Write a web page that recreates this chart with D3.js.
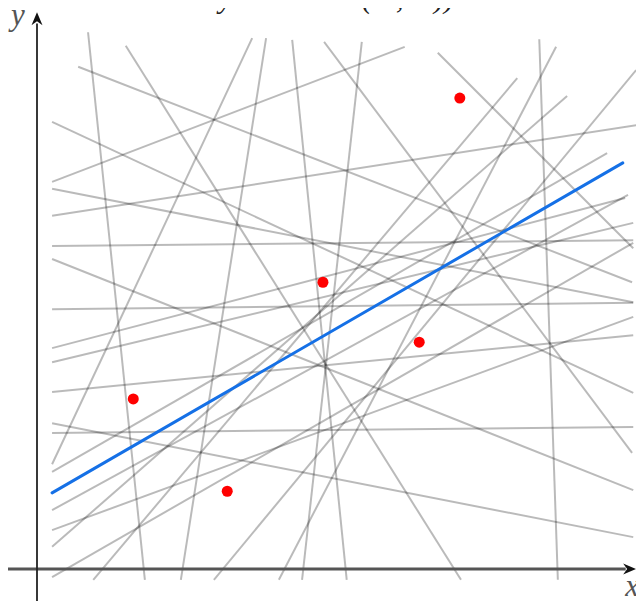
<!DOCTYPE html>
<html>
<head>
<meta charset="utf-8">
<script src="https://cdn.jsdelivr.net/npm/d3@7"></script>
<style>
  html, body { margin: 0; padding: 0; background: #fff; }
  svg { display: block; }
</style>
</head>
<body>
<div id="chart"></div>
<script>
// ---- data (data units; axes cross at 0,0) ----
// random gray lines: endpoints
const lineX1 = [0.88, 1.53, 3.71, 3.95, 4.40, 0.71, 4.95, 6.91, 5.60, 6.34, 8.66, 8.95, 8.28, 9.14, 10.33,
                0.26, 0.26, 0.26, 0.26, 0.26, 0.26, 0.26, 0.26, 0.26, 0.26, 0.26, 0.26, 0.26, 0.26, 0.26];
const lineY1 = [9.94, 9.69, 9.83, 9.83, 9.80, 9.30, 9.76, 9.56, 9.76, 9.67, 9.81, 9.67, 9.09, 8.76, 9.24,
                8.28, 7.04, 6.54, 5.98, 5.74, 4.81, 4.09, 3.83, 3.28, 2.70, 2.52, 1.80, 1.09, 0.72, -0.15];
const lineX2 = [1.86, 7.31, 0.26, 2.48, 5.34, 10.26, 10.26, 10.28, 4.57, 0.26, 8.98, 4.17, 0.97, 0.26, 3.05,
                10.28, 10.28, 10.33, 10.28, 10.28, 10.28, 10.14, 10.28, 10.28, 10.28, 10.28, 9.83, 10.19, 10.28, 10.28];
const lineY2 = [-0.20, -0.20, 1.94, -0.20, -0.20, 5.31, 2.15, 5.94, -0.20, 7.17, -0.20, -0.20, -0.20, 0.41, -0.20,
                3.26, 4.94, 8.22, 6.09, 1.46, 4.93, 6.87, 6.41, 4.33, 0.59, 2.63, 7.70, 6.93, 4.67, 6.04];

// red data points
const pointX = [1.66, 3.28, 4.93, 6.59, 7.29];
const pointY = [3.15, 1.44, 5.31, 4.20, 8.72];

// fitted (blue) line endpoints
const fitX = [0.26, 10.10];
const fitY = [1.41, 7.52];

// axis labels
const xLabel = "x";
const yLabel = "y";

// ---- layout ----
const W = 636, H = 601;
const xs = d3.scaleLinear().domain([0, 10]).range([37, 617]);
const ys = d3.scaleLinear().domain([0, 10]).range([569, 29]);

const svg = d3.select("#chart").append("svg")
  .attr("width", W).attr("height", H)
  .attr("font-family", "'Liberation Serif', 'DejaVu Serif', serif");

// partially visible title (only lower parts visible)
const defs = svg.append("defs");
defs.append("clipPath").attr("id", "titleClip")
  .append("rect").attr("x", 0).attr("y", 8).attr("width", W).attr("height", 20);
const title = svg.append("text")
  .attr("clip-path", "url(#titleClip)")
  .attr("y", 8)
  .attr("font-size", 30)
  .attr("font-style", "italic")
  .attr("fill", "#222");
[["y", 219], ["(a", 362], [", b", 396], ["))", 434]].forEach(([t, x]) => {
  title.append("tspan").attr("x", x).text(t);
});

// gray lines
const lines = d3.range(lineX1.length).map(i => ({x1: lineX1[i], y1: lineY1[i], x2: lineX2[i], y2: lineY2[i]}));
svg.append("g")
  .selectAll("line").data(lines).join("line")
  .attr("x1", d => xs(d.x1)).attr("y1", d => ys(d.y1))
  .attr("x2", d => xs(d.x2)).attr("y2", d => ys(d.y2))
  .attr("stroke", "#000").attr("stroke-opacity", 0.27).attr("stroke-width", 2);

// axes
const axisG = svg.append("g");
axisG.append("line")
  .attr("x1", xs(-0.5)).attr("x2", xs(10.15))
  .attr("y1", ys(0)).attr("y2", ys(0))
  .attr("stroke", "#555").attr("stroke-width", 3);
axisG.append("line")
  .attr("x1", xs(0)).attr("x2", xs(0))
  .attr("y1", ys(-0.6)).attr("y2", ys(10.1))
  .attr("stroke", "#222").attr("stroke-width", 1.8);

// arrowheads
const tx = xs(10.33), ty = ys(0);
axisG.append("path")
  .attr("d", `M${tx},${ty} L${tx - 13},${ty - 5.5} L${tx - 9},${ty} L${tx - 13},${ty + 5.5} Z`)
  .attr("fill", "#111");
const ux = xs(0), uy = ys(10.31);
axisG.append("path")
  .attr("d", `M${ux},${uy} L${ux - 5.5},${uy + 13} L${ux},${uy + 9} L${ux + 5.5},${uy + 13} Z`)
  .attr("fill", "#111");

// axis labels
svg.append("text").attr("x", xs(0) - 26).attr("y", ys(10.31) + 13)
  .attr("font-size", 31).attr("font-style", "italic").attr("fill", "#555").text(yLabel);
svg.append("text").attr("x", xs(10.33) - 11).attr("y", ys(0) + 27)
  .attr("font-size", 31).attr("font-style", "italic").attr("fill", "#555").text(xLabel);

// fitted blue line
svg.append("line")
  .attr("x1", xs(fitX[0])).attr("y1", ys(fitY[0]))
  .attr("x2", xs(fitX[1])).attr("y2", ys(fitY[1]))
  .attr("stroke", "#1570e6").attr("stroke-width", 3).attr("stroke-linecap", "round");

// red points
const pts = pointX.map((x, i) => ({x, y: pointY[i]}));
svg.append("g").selectAll("circle").data(pts).join("circle")
  .attr("cx", d => xs(d.x)).attr("cy", d => ys(d.y))
  .attr("r", 5.5).attr("fill", "#f00");
</script>
</body>
</html>
